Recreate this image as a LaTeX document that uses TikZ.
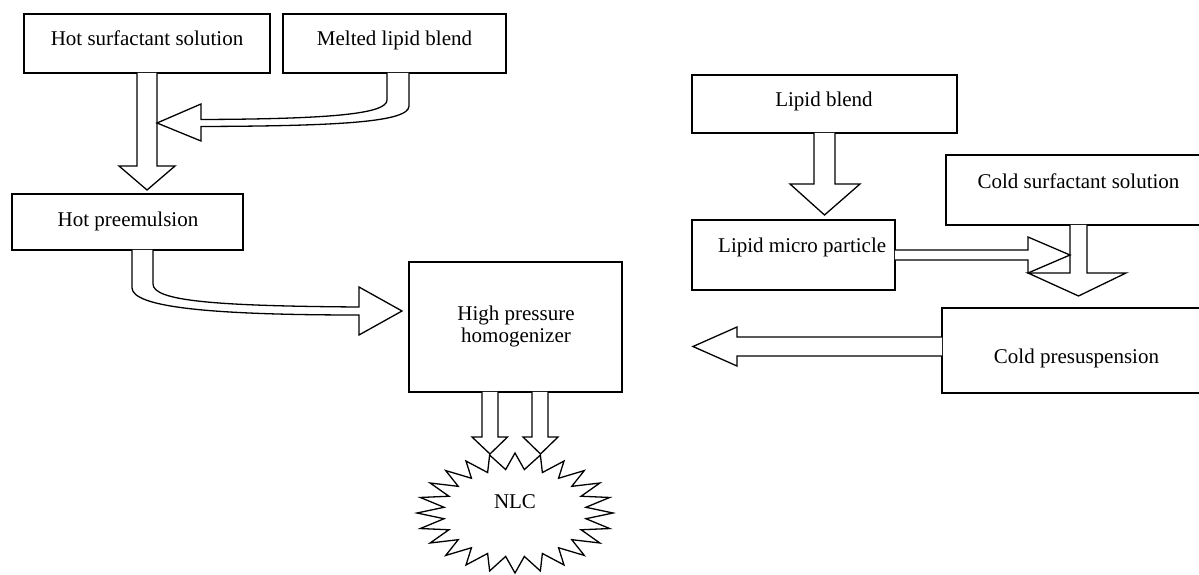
\documentclass[tikz,border=0pt]{standalone}
\usepackage{fontspec}
\setmainfont{Liberation Serif}
\usetikzlibrary{calc}
\begin{document}
\begin{tikzpicture}[x=1pt,y=-1pt,
  box/.style={draw, line width=1.4pt, inner sep=0pt},
  txt/.style={font=\fontsize{21}{22}\selectfont, inner sep=0pt, align=center},
  barrow/.style={draw, fill=white, line width=1.3pt, line join=miter, miter limit=10},
  starline/.style={draw, line width=1.3pt, line join=miter, miter limit=10}]
\useasboundingbox (0,0) rectangle (1199,575);
\fill[white] (0,0) rectangle (1199,575);

% boxes
\node[box, minimum width=246pt, minimum height=59pt] (hs)  at (147,43.5) {};
\node[box, minimum width=223pt, minimum height=59pt] (ml)  at (394.5,43.5) {};
\node[box, minimum width=231pt, minimum height=56pt] (hp)  at (127.5,222) {};
\node[box, minimum width=213pt, minimum height=130pt] (hph) at (515.5,327) {};
\node[box, minimum width=265pt, minimum height=58pt] (lb)  at (824.5,104) {};
\node[box, minimum width=203pt, minimum height=70pt] (lmp) at (793.5,255) {};
\node[box, minimum width=265pt, minimum height=70pt] (css) at (1078.5,190) {};
\node[box, minimum width=269pt, minimum height=85pt] (cps) at (1076.5,350.5) {};

% texts
\node[txt, anchor=base] (hs-t)  at (147,45.7) {Hot surfactant solution};
\node[txt, anchor=base] (ml-t)  at (394.5,45.7) {Melted lipid blend};
\node[txt, anchor=base] (hp-t)  at (128,226) {Hot preemulsion};
\node[txt] (hph-t) at (516,326) {High pressure\\homogenizer};
\node[txt, anchor=base] (lb-t)  at (824,107) {Lipid blend};
\node[txt, anchor=base west] (lmp-t) at (718,252) {Lipid micro particle};
\node[txt, anchor=base] (css-t) at (1078.5,188) {Cold surfactant solution};
\node[txt, anchor=base] (cps-t) at (1076.5,363) {Cold presuspension};

% NLC star
\path[starline] plot[variable=\k, samples at={0,...,47}]
  ({515+98*(1-0.27*mod(\k,2))*cos(90+7.5*\k)}, {513-60*(1-0.27*mod(\k,2))*sin(90+7.5*\k)}) -- cycle;
\node[txt, anchor=base] (nlc) at (515,508) {NLC};

% arrow: hot surfactant -> hot preemulsion
\path[barrow] ($(hs.south)+(-10,-0.8)$) -- (137,166) -- (119,166) -- (147,190)
  -- (175,166) -- (157,166) -- ($(hs.south)+(10,-0.8)$);
% arrow: melted lipid blend -> into the first arrow
\path[barrow] ($(ml.south)+(-7.5,-0.8)$) -- (387,100)
  .. controls (387,114) and (330,119) .. (201,119.5)
  -- (201,104) -- (157,123) -- (201,141) -- (201,126.5)
  .. controls (340,126) and (409,122) .. (409,106)
  -- ($(ml.south)+(14.5,-0.8)$);
% arrow: hot preemulsion -> homogenizer
\path[barrow] ($(hp.south)+(4.5,-0.8)$) -- (132,288)
  .. controls (133,306) and (200,315) .. (359,315)
  -- (359,335) -- (402,311) -- (359,287) -- (359,307)
  .. controls (215,306) and (153,301) .. (153,284)
  -- ($(hp.south)+(25.5,-0.8)$);
% arrows: homogenizer -> NLC
\path[barrow] ($(hph.south)+(-33.5,-0.8)$) -- (482,437) -- (472,437) -- (490,454)
  -- (507.5,437) -- (498,437) -- ($(hph.south)+(-17.5,-0.8)$);
\path[barrow] ($(hph.south)+(16.5,-0.8)$) -- (532,437) -- (523,437) -- (540.5,454)
  -- (558,437) -- (548,437) -- ($(hph.south)+(32.5,-0.8)$);

% arrow: lipid blend -> lipid micro particle
\path[barrow] ($(lb.south)+(-10.5,-0.8)$) -- (814,184) -- (790,184) -- (824.5,215)
  -- (860,184) -- (835,184) -- ($(lb.south)+(10.5,-0.8)$);
% arrow: cold surfactant solution -> cold presuspension
\path[barrow] ($(css.south)+(-8.5,-0.8)$) -- (1070,273) -- (1028,273) -- (1078.5,296)
  -- (1126,273) -- (1087,273) -- ($(css.south)+(8.5,-0.8)$);
% arrow: lipid micro particle -> cold surfactant arrow
\path[barrow] ($(lmp.east)+(-0.8,-5)$) -- (1028,250) -- (1028,237) -- (1070,255)
  -- (1028,273) -- (1028,260) -- ($(lmp.east)+(-0.8,5)$);
% arrow: cold presuspension -> towards homogenizer
\path[barrow] ($(cps.west |- 0,337)+(0.8,0)$) -- (737,337) -- (737,327) -- (693,346.5)
  -- (737,366) -- (737,356) -- ($(cps.west |- 0,356)+(0.8,0)$);
\end{tikzpicture}
\end{document}
